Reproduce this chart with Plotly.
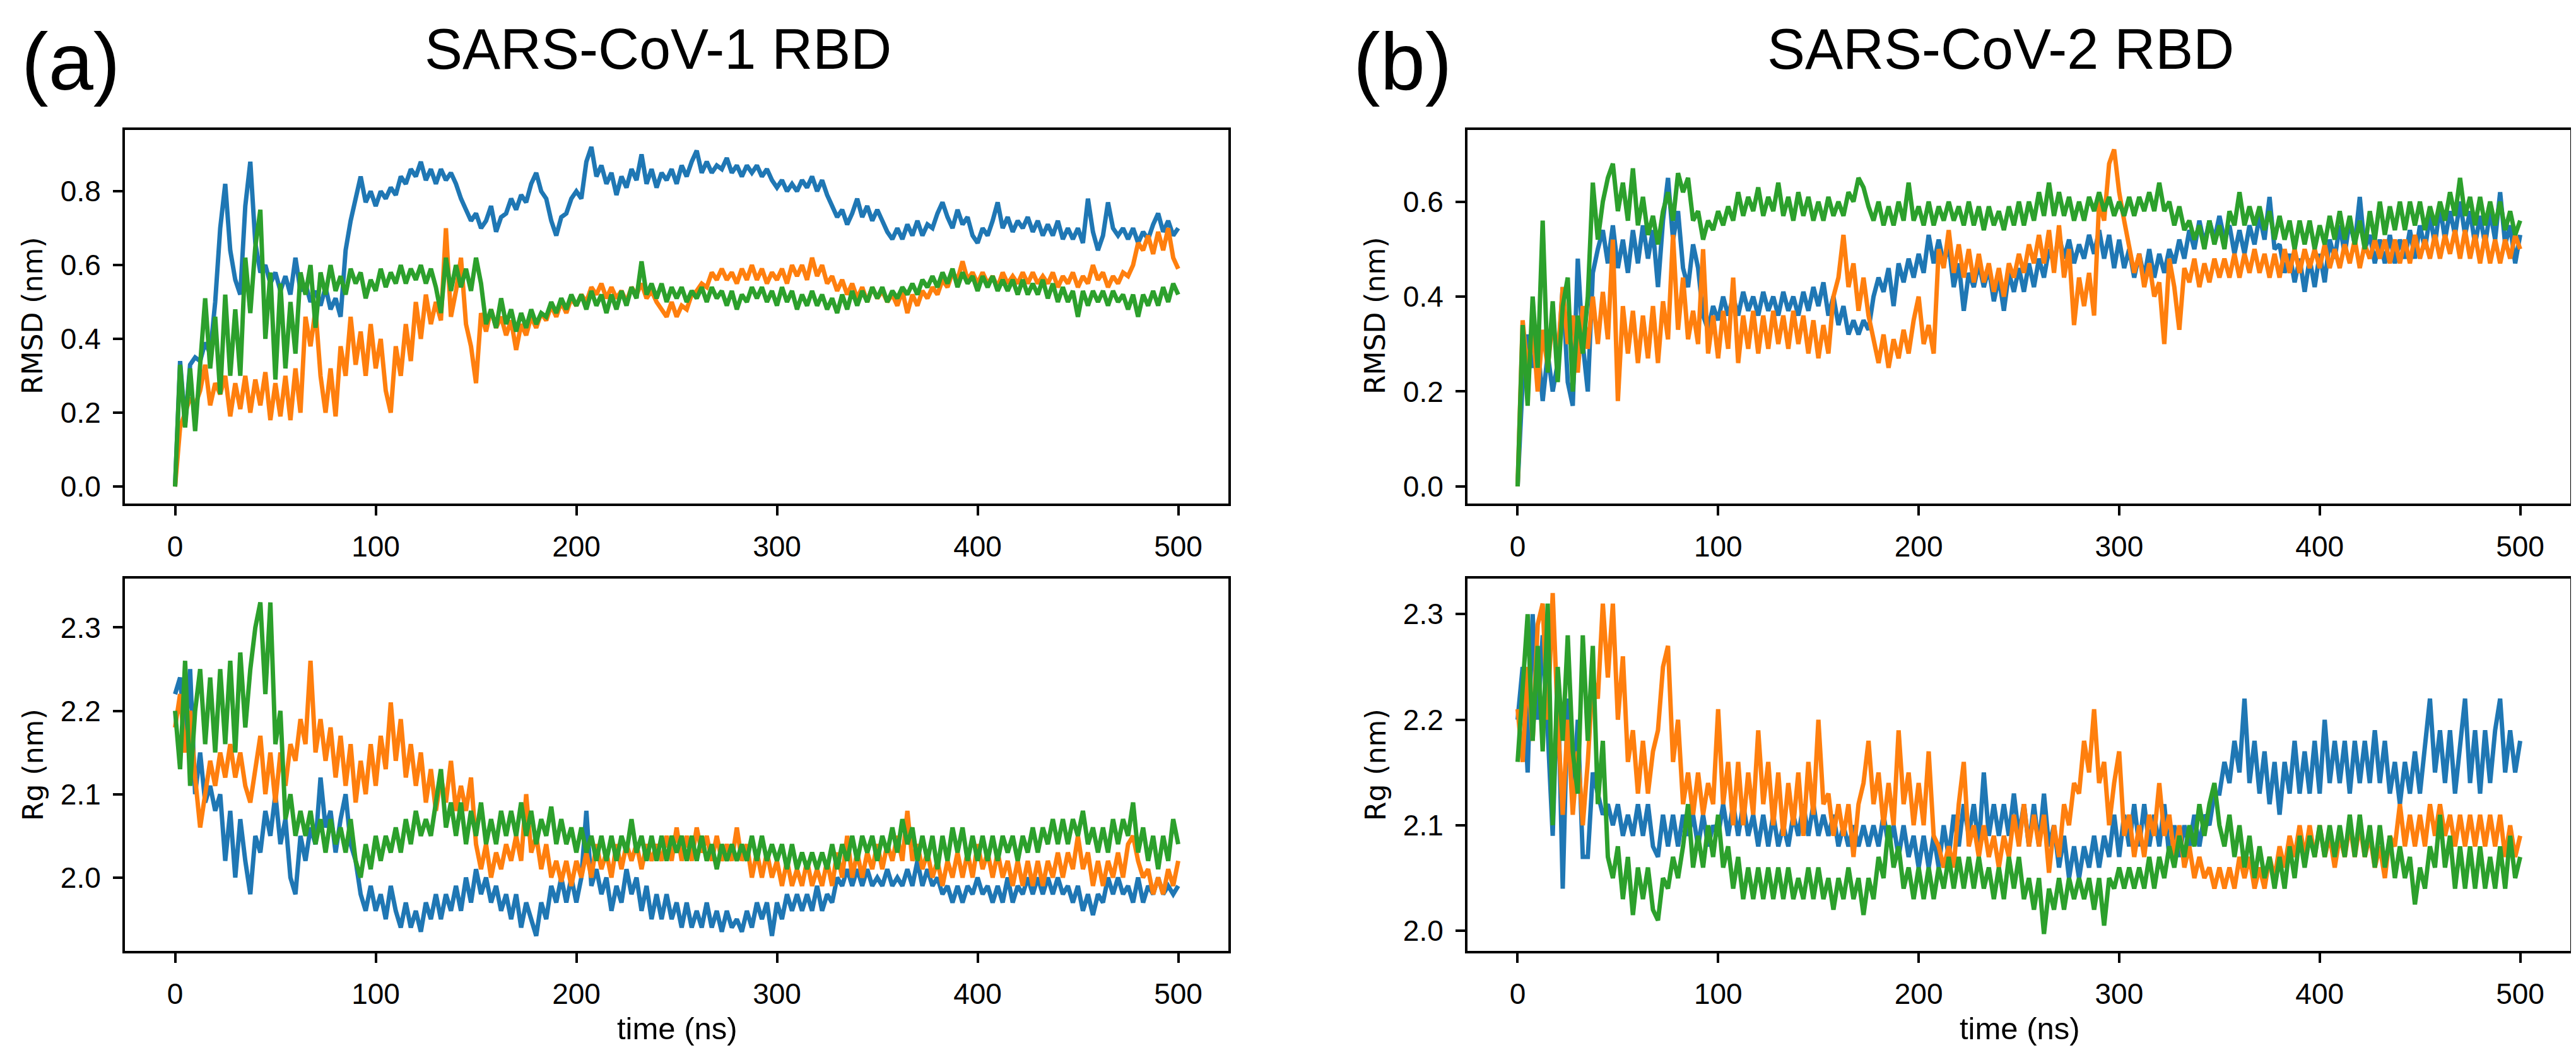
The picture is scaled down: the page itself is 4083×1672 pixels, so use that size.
import plotly.graph_objects as go

# time axis (ns), one sample every 2.5 ns
time_ns = [i * 2.5 for i in range(201)]
x_ticks = [0, 100, 200, 300, 400, 500]

# ---------------- (a) SARS-CoV-1 RBD : RMSD (nm) ----------------
a_rmsd_blue = [
    0.00, 0.34, 0.17, 0.33, 0.35, 0.34, 0.39, 0.36, 0.50, 0.70,
    0.82, 0.64, 0.56, 0.52, 0.76, 0.88, 0.66, 0.58, 0.60, 0.55,
    0.58, 0.53, 0.57, 0.52, 0.62, 0.53, 0.55, 0.50, 0.53, 0.49,
    0.54, 0.48, 0.51, 0.46, 0.64, 0.72, 0.78, 0.84, 0.77, 0.80,
    0.76, 0.80, 0.78, 0.81, 0.79, 0.84, 0.82, 0.86, 0.84, 0.88,
    0.83, 0.86, 0.82, 0.86, 0.83, 0.85, 0.82, 0.78, 0.75, 0.72,
    0.74, 0.70, 0.72, 0.76, 0.69, 0.73, 0.74, 0.78, 0.75, 0.79,
    0.77, 0.82, 0.85, 0.80, 0.78, 0.72, 0.68, 0.73, 0.74, 0.78,
    0.80, 0.78, 0.88, 0.92, 0.84, 0.87, 0.82, 0.85, 0.79, 0.84,
    0.81, 0.86, 0.83, 0.90, 0.82, 0.86, 0.81, 0.85, 0.83, 0.86,
    0.82, 0.87, 0.84, 0.88, 0.91, 0.85, 0.88, 0.85, 0.87, 0.86,
    0.89, 0.85, 0.87, 0.84, 0.87, 0.85, 0.87, 0.84, 0.86, 0.83,
    0.81, 0.83, 0.80, 0.82, 0.80, 0.83, 0.81, 0.84, 0.80, 0.83,
    0.79, 0.76, 0.73, 0.75, 0.71, 0.74, 0.78, 0.73, 0.76, 0.72,
    0.75, 0.72, 0.69, 0.67, 0.70, 0.67, 0.71, 0.68, 0.72, 0.68,
    0.71, 0.70, 0.74, 0.77, 0.73, 0.70, 0.75, 0.71, 0.73, 0.68,
    0.66, 0.70, 0.68, 0.72, 0.77, 0.70, 0.73, 0.69, 0.72, 0.70,
    0.73, 0.69, 0.72, 0.68, 0.71, 0.68, 0.72, 0.67, 0.70, 0.67,
    0.70, 0.66, 0.78, 0.69, 0.64, 0.68, 0.77, 0.70, 0.68, 0.70,
    0.67, 0.70, 0.66, 0.69, 0.67, 0.71, 0.74, 0.69, 0.72, 0.68,
    0.70]
a_rmsd_orange = [
    0.00, 0.16, 0.20, 0.24, 0.22, 0.26, 0.33, 0.22, 0.28, 0.25,
    0.30, 0.19, 0.28, 0.21, 0.30, 0.20, 0.29, 0.22, 0.31, 0.18,
    0.28, 0.19, 0.30, 0.18, 0.32, 0.20, 0.46, 0.38, 0.48, 0.30,
    0.20, 0.32, 0.19, 0.38, 0.30, 0.46, 0.33, 0.42, 0.30, 0.44,
    0.32, 0.40, 0.26, 0.20, 0.38, 0.30, 0.44, 0.34, 0.50, 0.40,
    0.52, 0.44, 0.50, 0.45, 0.70, 0.46, 0.53, 0.62, 0.44, 0.38,
    0.28, 0.47, 0.42, 0.48, 0.43, 0.46, 0.41, 0.45, 0.37, 0.44,
    0.41, 0.46, 0.43, 0.47, 0.45, 0.49, 0.46, 0.50, 0.47, 0.51,
    0.49, 0.52, 0.50, 0.54, 0.52, 0.55, 0.51, 0.54, 0.51, 0.53,
    0.50, 0.54, 0.52, 0.55, 0.51, 0.53, 0.50, 0.48, 0.46, 0.50,
    0.46, 0.49, 0.48, 0.52, 0.53, 0.55, 0.54, 0.58, 0.56, 0.59,
    0.56, 0.58, 0.55, 0.59, 0.56, 0.60, 0.56, 0.59, 0.55, 0.58,
    0.56, 0.59, 0.55, 0.60, 0.57, 0.60, 0.56, 0.62, 0.57, 0.60,
    0.55, 0.57, 0.53, 0.56, 0.52, 0.55, 0.51, 0.54, 0.50, 0.54,
    0.51, 0.53, 0.50, 0.52, 0.49, 0.53, 0.47, 0.52, 0.49, 0.53,
    0.51, 0.54, 0.52, 0.56, 0.54, 0.58, 0.56, 0.61, 0.56, 0.58,
    0.55, 0.58, 0.55, 0.57, 0.54, 0.58, 0.55, 0.57, 0.55, 0.58,
    0.55, 0.58, 0.55, 0.57, 0.55, 0.58, 0.54, 0.57, 0.55, 0.58,
    0.54, 0.57, 0.55, 0.60, 0.56, 0.58, 0.54, 0.57, 0.55, 0.58,
    0.57, 0.60, 0.66, 0.64, 0.68, 0.63, 0.69, 0.64, 0.70, 0.62,
    0.59]
a_rmsd_green = [
    0.00, 0.33, 0.16, 0.32, 0.15, 0.34, 0.51, 0.32, 0.46, 0.25,
    0.52, 0.30, 0.48, 0.30, 0.62, 0.47, 0.65, 0.75, 0.40, 0.58,
    0.29, 0.55, 0.32, 0.50, 0.36, 0.58, 0.52, 0.60, 0.43, 0.58,
    0.52, 0.60, 0.53, 0.57, 0.52, 0.59, 0.55, 0.58, 0.51, 0.56,
    0.53, 0.59, 0.54, 0.58, 0.55, 0.60, 0.55, 0.59, 0.56, 0.60,
    0.55, 0.59, 0.54, 0.47, 0.62, 0.53, 0.60, 0.54, 0.59, 0.53,
    0.62, 0.55, 0.44, 0.48, 0.43, 0.51, 0.44, 0.48, 0.42, 0.47,
    0.43, 0.48, 0.44, 0.47, 0.46, 0.50, 0.47, 0.51, 0.48, 0.52,
    0.49, 0.52, 0.48, 0.53, 0.49, 0.52, 0.47, 0.52, 0.48, 0.53,
    0.49, 0.54, 0.51, 0.61, 0.52, 0.55, 0.51, 0.55, 0.50, 0.54,
    0.51, 0.54, 0.50, 0.53, 0.51, 0.54, 0.50, 0.54, 0.51, 0.53,
    0.49, 0.53, 0.48, 0.52, 0.50, 0.54, 0.51, 0.54, 0.50, 0.53,
    0.49, 0.54, 0.50, 0.53, 0.48, 0.52, 0.49, 0.53, 0.49, 0.52,
    0.48, 0.51, 0.47, 0.52, 0.48, 0.53, 0.49, 0.53, 0.50, 0.54,
    0.51, 0.54, 0.50, 0.53, 0.51, 0.54, 0.52, 0.55, 0.52, 0.56,
    0.54, 0.57, 0.54, 0.58, 0.55, 0.59, 0.54, 0.58, 0.55, 0.57,
    0.53, 0.57, 0.54, 0.57, 0.53, 0.56, 0.53, 0.56, 0.52, 0.56,
    0.52, 0.55, 0.52, 0.56, 0.51, 0.55, 0.50, 0.54, 0.50, 0.53,
    0.46, 0.53, 0.49, 0.53, 0.50, 0.53, 0.49, 0.53, 0.50, 0.52,
    0.48, 0.52, 0.46, 0.52, 0.49, 0.53, 0.49, 0.54, 0.50, 0.55,
    0.52]

# ---------------- (a) SARS-CoV-1 RBD : Rg (nm) ----------------
a_rg_blue = [
    2.22, 2.24, 2.17, 2.25, 2.10, 2.15, 2.09, 2.11, 2.08, 2.10,
    2.02, 2.08, 2.00, 2.07, 2.02, 1.98, 2.05, 2.03, 2.08, 2.05,
    2.10, 2.04, 2.07, 2.00, 1.98, 2.05, 2.02, 2.06, 2.04, 2.12,
    2.06, 2.08, 2.03, 2.07, 2.10, 2.04, 2.02, 1.98, 1.96, 1.99,
    1.96, 1.98, 1.95, 1.99, 1.96, 1.94, 1.97, 1.94, 1.96, 1.935,
    1.97, 1.95, 1.98, 1.95, 1.98, 1.96, 1.99, 1.96, 2.00, 1.97,
    2.01, 1.98, 2.00, 1.97, 1.99, 1.96, 1.98, 1.95, 1.98, 1.94,
    1.97, 1.95, 1.93, 1.97, 1.95, 1.99, 1.97, 2.00, 1.97, 2.00,
    1.97, 2.00, 2.08, 1.99, 2.01, 1.98, 2.00, 1.96, 1.99, 1.97,
    2.01, 1.98, 2.00, 1.96, 1.99, 1.95, 1.98, 1.95, 1.98, 1.95,
    1.97, 1.94, 1.97, 1.94, 1.96, 1.94, 1.97, 1.94, 1.96, 1.935,
    1.96, 1.94, 1.95, 1.935, 1.96, 1.94, 1.97, 1.95, 1.97, 1.93,
    1.97, 1.95, 1.98, 1.96, 1.98, 1.96, 1.98, 1.96, 1.99, 1.96,
    1.98, 1.97, 2.00, 1.99, 2.01, 1.99, 2.01, 1.99, 2.01, 1.99,
    2.00, 1.99, 2.01, 1.99, 2.00, 1.99, 2.01, 1.99, 2.02, 1.99,
    2.01, 1.99, 2.00, 1.98, 1.99, 1.97, 1.99, 1.97, 1.99, 1.98,
    2.00, 1.98, 1.99, 1.97, 1.99, 1.97, 2.00, 1.97, 1.99, 1.98,
    2.00, 1.98, 2.00, 1.98, 2.00, 1.98, 2.00, 1.98, 1.99, 1.97,
    1.99, 1.96, 1.98, 1.955, 1.98, 1.97, 2.00, 1.98, 2.00, 1.98,
    1.99, 1.97, 2.00, 1.97, 1.99, 1.98, 2.00, 1.98, 1.99, 1.98,
    1.99]
a_rg_orange = [
    2.18, 2.22, 2.15, 2.20, 2.12, 2.06, 2.10, 2.14, 2.11, 2.15,
    2.12, 2.16, 2.12, 2.15, 2.11, 2.09, 2.13, 2.17, 2.10, 2.15,
    2.09, 2.15, 2.11, 2.16, 2.14, 2.19, 2.16, 2.26, 2.15, 2.19,
    2.14, 2.18, 2.12, 2.17, 2.11, 2.16, 2.09, 2.14, 2.10, 2.16,
    2.11, 2.17, 2.13, 2.21, 2.14, 2.19, 2.12, 2.16, 2.11, 2.15,
    2.09, 2.13, 2.08, 2.12, 2.09, 2.14, 2.08, 2.11, 2.08, 2.12,
    2.04, 2.01, 2.04, 2.00, 2.03, 2.01, 2.04, 2.02, 2.05, 2.02,
    2.10, 2.03, 2.05, 2.01, 2.04, 2.00, 2.02, 1.995, 2.02, 1.99,
    2.02, 2.00, 2.03, 2.00, 2.04, 2.01, 2.03, 2.00, 2.04, 2.01,
    2.04, 2.02, 2.04, 2.01, 2.04, 2.02, 2.04, 2.02, 2.05, 2.02,
    2.06, 2.02, 2.05, 2.02, 2.06, 2.03, 2.05, 2.02, 2.05, 2.02,
    2.04, 2.02, 2.06, 2.02, 2.04, 2.00, 2.03, 2.00, 2.03, 2.00,
    2.02, 1.99, 2.02, 1.99, 2.01, 1.99, 2.02, 1.99, 2.01, 1.99,
    2.02, 1.99, 2.03, 2.00, 2.05, 2.00, 2.03, 2.00, 2.03, 2.01,
    2.04, 2.01, 2.04, 2.02, 2.05, 2.02, 2.08, 2.02, 2.04, 2.01,
    2.03, 2.00, 2.02, 1.99, 2.02, 2.00, 2.03, 2.00, 2.03, 2.00,
    2.04, 2.01, 2.03, 2.00, 2.03, 2.00, 2.02, 1.99, 2.02, 1.99,
    2.02, 1.99, 2.02, 1.99, 2.02, 2.00, 2.03, 2.00, 2.03, 2.01,
    2.05, 2.01, 2.03, 1.99, 2.02, 1.99, 2.02, 2.00, 2.03, 2.00,
    2.04, 2.05, 2.02, 2.00, 2.01, 1.98, 2.00, 1.98, 2.01, 1.99,
    2.02]
a_rg_green = [
    2.20, 2.13, 2.26, 2.11, 2.20, 2.25, 2.16, 2.24, 2.15, 2.25,
    2.16, 2.26, 2.15, 2.27, 2.18, 2.25, 2.30, 2.33, 2.22, 2.33,
    2.16, 2.20, 2.07, 2.10, 2.05, 2.08, 2.05, 2.08, 2.04, 2.07,
    2.03, 2.07, 2.04, 2.06, 2.03, 2.07, 2.02, 2.00, 2.04, 2.01,
    2.05, 2.02, 2.05, 2.03, 2.06, 2.03, 2.07, 2.04, 2.08, 2.05,
    2.07, 2.05, 2.09, 2.13, 2.06, 2.09, 2.05, 2.09, 2.04, 2.08,
    2.05, 2.09, 2.04, 2.07, 2.04, 2.08, 2.05, 2.08, 2.05, 2.09,
    2.05, 2.08, 2.04, 2.07, 2.05, 2.085, 2.04, 2.07, 2.04, 2.06,
    2.03, 2.06, 2.03, 2.05, 2.02, 2.05, 2.02, 2.05, 2.02, 2.05,
    2.03, 2.07, 2.03, 2.05, 2.02, 2.05, 2.02, 2.05, 2.02, 2.05,
    2.03, 2.05, 2.02, 2.05, 2.02, 2.05, 2.02, 2.04, 2.01, 2.04,
    2.02, 2.04, 2.02, 2.04, 2.02, 2.05, 2.02, 2.05, 2.02, 2.04,
    2.02, 2.04, 2.01, 2.04, 2.01, 2.03, 2.01, 2.03, 2.01, 2.03,
    2.01, 2.04, 2.01, 2.04, 2.02, 2.05, 2.02, 2.05, 2.03, 2.05,
    2.02, 2.05, 2.03, 2.06, 2.03, 2.07, 2.04, 2.06, 2.02, 2.05,
    2.02, 2.05, 2.01, 2.05, 2.02, 2.06, 2.03, 2.06, 2.02, 2.05,
    2.02, 2.05, 2.02, 2.05, 2.02, 2.05, 2.03, 2.05, 2.02, 2.05,
    2.03, 2.06, 2.03, 2.06, 2.04, 2.07, 2.04, 2.07, 2.04, 2.07,
    2.05, 2.08, 2.04, 2.06, 2.03, 2.06, 2.03, 2.07, 2.04, 2.07,
    2.05, 2.09, 2.03, 2.06, 2.02, 2.05, 2.01, 2.05, 2.02, 2.07,
    2.04]

# ---------------- (b) SARS-CoV-2 RBD : RMSD (nm) ----------------
b_rmsd_blue = [
    0.00, 0.22, 0.32, 0.25, 0.30, 0.18, 0.28, 0.20, 0.26, 0.42,
    0.22, 0.17, 0.48, 0.30, 0.20, 0.45, 0.50, 0.54, 0.47, 0.55,
    0.46, 0.52, 0.45, 0.54, 0.47, 0.55, 0.48, 0.54, 0.42, 0.56,
    0.65, 0.52, 0.58, 0.46, 0.42, 0.51, 0.46, 0.36, 0.33, 0.38,
    0.35, 0.40, 0.36, 0.40, 0.36, 0.41, 0.37, 0.40, 0.36, 0.41,
    0.37, 0.40, 0.36, 0.41, 0.37, 0.40, 0.36, 0.41, 0.37, 0.42,
    0.38, 0.43, 0.36, 0.40, 0.34, 0.38, 0.32, 0.35, 0.32, 0.35,
    0.33, 0.40, 0.44, 0.41, 0.46, 0.38, 0.47, 0.43, 0.48, 0.44,
    0.49, 0.45, 0.53, 0.47, 0.52, 0.47, 0.51, 0.42, 0.47, 0.37,
    0.45, 0.42, 0.47, 0.42, 0.46, 0.39, 0.44, 0.37, 0.45, 0.41,
    0.46, 0.41, 0.47, 0.42, 0.48, 0.44, 0.50, 0.47, 0.53, 0.48,
    0.52, 0.47, 0.51, 0.48, 0.53, 0.49, 0.54, 0.48, 0.53, 0.46,
    0.52, 0.46, 0.50, 0.44, 0.49, 0.44, 0.50, 0.44, 0.49, 0.45,
    0.50, 0.47, 0.52, 0.48, 0.54, 0.50, 0.56, 0.51, 0.56, 0.52,
    0.57, 0.52, 0.55, 0.49, 0.54, 0.49, 0.55, 0.51, 0.57, 0.52,
    0.61, 0.50, 0.51, 0.45, 0.49, 0.43, 0.48, 0.41, 0.48, 0.42,
    0.49, 0.43, 0.52, 0.48, 0.55, 0.49, 0.56, 0.51, 0.61, 0.50,
    0.53, 0.47, 0.52, 0.47, 0.53, 0.47, 0.52, 0.48, 0.54, 0.48,
    0.55, 0.50, 0.57, 0.51, 0.59, 0.52, 0.58, 0.53, 0.60, 0.53,
    0.58, 0.51, 0.57, 0.51, 0.58, 0.52, 0.62, 0.51, 0.55, 0.47,
    0.53]
b_rmsd_orange = [
    0.00, 0.35, 0.24, 0.34, 0.20, 0.33, 0.25, 0.35, 0.27, 0.42,
    0.30, 0.36, 0.24, 0.38, 0.29, 0.40, 0.30, 0.41, 0.31, 0.52,
    0.18, 0.38, 0.28, 0.37, 0.26, 0.36, 0.27, 0.38, 0.26, 0.39,
    0.31, 0.53, 0.33, 0.44, 0.31, 0.37, 0.30, 0.50, 0.28, 0.36,
    0.27, 0.37, 0.29, 0.44, 0.26, 0.36, 0.29, 0.37, 0.28, 0.36,
    0.29, 0.37, 0.30, 0.36, 0.29, 0.37, 0.30, 0.36, 0.28, 0.35,
    0.27, 0.34, 0.28, 0.40, 0.44, 0.53, 0.42, 0.47, 0.37, 0.44,
    0.36, 0.31, 0.26, 0.32, 0.25, 0.31, 0.27, 0.33, 0.28, 0.35,
    0.40, 0.30, 0.34, 0.28, 0.50, 0.46, 0.54, 0.45, 0.51, 0.44,
    0.50, 0.43, 0.49, 0.43, 0.47, 0.41, 0.46, 0.40, 0.47, 0.44,
    0.49, 0.45, 0.51, 0.47, 0.53, 0.47, 0.54, 0.45, 0.55, 0.44,
    0.50, 0.34, 0.44, 0.38, 0.45, 0.36, 0.60, 0.56, 0.68, 0.71,
    0.62, 0.56, 0.50, 0.45, 0.49, 0.42, 0.47, 0.40, 0.43, 0.30,
    0.48, 0.42, 0.33, 0.46, 0.43, 0.48, 0.42, 0.47, 0.43, 0.48,
    0.44, 0.48, 0.44, 0.49, 0.44, 0.49, 0.45, 0.50, 0.45, 0.49,
    0.44, 0.49, 0.44, 0.50, 0.45, 0.50, 0.45, 0.50, 0.46, 0.50,
    0.46, 0.51, 0.46, 0.50, 0.46, 0.51, 0.47, 0.52, 0.46, 0.51,
    0.48, 0.52, 0.48, 0.52, 0.47, 0.52, 0.47, 0.52, 0.47, 0.53,
    0.48, 0.52, 0.48, 0.53, 0.48, 0.53, 0.49, 0.54, 0.48, 0.54,
    0.48, 0.53, 0.47, 0.53, 0.47, 0.52, 0.47, 0.52, 0.48, 0.53,
    0.50]
b_rmsd_green = [
    0.00, 0.34, 0.17, 0.40, 0.25, 0.56, 0.24, 0.39, 0.22, 0.38,
    0.44, 0.20, 0.36, 0.28, 0.40, 0.64, 0.52, 0.60, 0.65, 0.68,
    0.58, 0.64, 0.56, 0.67, 0.55, 0.61, 0.53, 0.57, 0.51, 0.58,
    0.62, 0.56, 0.66, 0.62, 0.65, 0.56, 0.58, 0.52, 0.56, 0.54,
    0.58, 0.55, 0.59, 0.56, 0.62, 0.57, 0.61, 0.58, 0.63, 0.57,
    0.61, 0.58, 0.64, 0.57, 0.61, 0.56, 0.62, 0.57, 0.61, 0.56,
    0.60, 0.56, 0.61, 0.57, 0.60, 0.57, 0.62, 0.60, 0.65, 0.63,
    0.59, 0.56, 0.60, 0.55, 0.59, 0.55, 0.60, 0.56, 0.64, 0.56,
    0.59, 0.55, 0.60, 0.55, 0.59, 0.56, 0.60, 0.56, 0.59, 0.55,
    0.60, 0.55, 0.59, 0.54, 0.59, 0.55, 0.58, 0.54, 0.59, 0.55,
    0.60, 0.55, 0.60, 0.56, 0.62, 0.57, 0.64, 0.57, 0.62, 0.57,
    0.61, 0.56, 0.60, 0.56, 0.61, 0.58, 0.62, 0.58, 0.61, 0.57,
    0.60, 0.57, 0.61, 0.57, 0.61, 0.58, 0.62, 0.58, 0.64, 0.58,
    0.60, 0.55, 0.59, 0.54, 0.56, 0.52, 0.55, 0.50, 0.56, 0.51,
    0.55, 0.50, 0.58, 0.55, 0.62, 0.55, 0.59, 0.55, 0.59, 0.54,
    0.58, 0.52, 0.57, 0.52, 0.56, 0.50, 0.56, 0.51, 0.56, 0.50,
    0.55, 0.51, 0.57, 0.52, 0.58, 0.52, 0.57, 0.51, 0.56, 0.50,
    0.58, 0.52, 0.60, 0.53, 0.59, 0.54, 0.60, 0.54, 0.60, 0.55,
    0.60, 0.54, 0.59, 0.55, 0.60, 0.56, 0.62, 0.57, 0.65, 0.57,
    0.61, 0.55, 0.61, 0.55, 0.60, 0.55, 0.60, 0.54, 0.58, 0.53,
    0.56]

# ---------------- (b) SARS-CoV-2 RBD : Rg (nm) ----------------
b_rg_blue = [
    2.20, 2.25, 2.15, 2.30, 2.20, 2.28, 2.19, 2.09, 2.24, 2.04,
    2.22, 2.12, 2.20, 2.07, 2.07, 2.15, 2.13, 2.11, 2.12, 2.10,
    2.12, 2.09, 2.11, 2.09, 2.12, 2.09, 2.12, 2.08, 2.07, 2.11,
    2.08, 2.11, 2.08, 2.11, 2.09, 2.11, 2.08, 2.11, 2.08, 2.10,
    2.09, 2.12, 2.09, 2.12, 2.09, 2.12, 2.09, 2.11, 2.08, 2.11,
    2.08, 2.11, 2.08, 2.10, 2.08, 2.11, 2.09, 2.12, 2.09, 2.12,
    2.09, 2.11, 2.09, 2.11, 2.08, 2.10, 2.08, 2.10, 2.08, 2.10,
    2.08, 2.10, 2.08, 2.11, 2.08, 2.10, 2.07, 2.10, 2.07, 2.09,
    2.06, 2.09, 2.06, 2.09, 2.06, 2.10, 2.07, 2.11, 2.08, 2.12,
    2.09, 2.12, 2.08, 2.15, 2.09, 2.12, 2.09, 2.12, 2.09, 2.13,
    2.09, 2.12, 2.08, 2.12, 2.08, 2.13, 2.08, 2.10, 2.06, 2.09,
    2.05, 2.08, 2.05, 2.08, 2.06, 2.09, 2.06, 2.09, 2.07, 2.11,
    2.07, 2.11, 2.08, 2.12, 2.08, 2.12, 2.08, 2.11, 2.08, 2.12,
    2.07, 2.10, 2.07, 2.10, 2.08, 2.11, 2.08, 2.11, 2.10, 2.13,
    2.13, 2.16, 2.14, 2.18, 2.15, 2.22, 2.14, 2.18, 2.13, 2.17,
    2.12, 2.16, 2.11, 2.16, 2.13, 2.18, 2.13, 2.17, 2.13, 2.18,
    2.13, 2.20, 2.14, 2.18, 2.14, 2.18, 2.13, 2.18, 2.14, 2.18,
    2.14, 2.19, 2.14, 2.18, 2.13, 2.16, 2.12, 2.16, 2.13, 2.17,
    2.13, 2.18, 2.22, 2.15, 2.19, 2.14, 2.19, 2.13, 2.18, 2.22,
    2.14, 2.19, 2.13, 2.19, 2.14, 2.19, 2.22, 2.15, 2.19, 2.15,
    2.18]
b_rg_orange = [
    2.21, 2.16, 2.25, 2.18, 2.29, 2.31, 2.20, 2.32, 2.20, 2.11,
    2.20, 2.11, 2.17, 2.10, 2.16, 2.24, 2.22, 2.31, 2.24, 2.31,
    2.20, 2.26, 2.16, 2.19, 2.13, 2.18, 2.13, 2.17, 2.19, 2.25,
    2.27, 2.16, 2.20, 2.12, 2.15, 2.11, 2.15, 2.11, 2.14, 2.12,
    2.21, 2.12, 2.16, 2.10, 2.16, 2.10, 2.15, 2.11, 2.19, 2.12,
    2.16, 2.10, 2.15, 2.09, 2.14, 2.10, 2.15, 2.09, 2.16, 2.11,
    2.20, 2.12, 2.13, 2.09, 2.12, 2.09, 2.12, 2.07, 2.12, 2.14,
    2.18, 2.12, 2.15, 2.10, 2.14, 2.10, 2.19, 2.12, 2.15, 2.10,
    2.14, 2.10, 2.17, 2.09, 2.08, 2.06, 2.08, 2.06, 2.12, 2.16,
    2.08, 2.10, 2.07, 2.10, 2.07, 2.09, 2.06, 2.09, 2.07, 2.11,
    2.08, 2.12, 2.08, 2.11, 2.08, 2.11, 2.055, 2.10, 2.07, 2.12,
    2.10, 2.14, 2.13, 2.18, 2.15, 2.21, 2.14, 2.16, 2.10, 2.14,
    2.17, 2.09, 2.11, 2.07, 2.10, 2.07, 2.11, 2.09, 2.14, 2.09,
    2.11, 2.07, 2.10, 2.06, 2.08, 2.05, 2.07, 2.05, 2.06, 2.04,
    2.06, 2.04, 2.06, 2.04, 2.07, 2.05, 2.07, 2.04, 2.06, 2.04,
    2.07, 2.05, 2.08, 2.06, 2.09, 2.07, 2.10, 2.07, 2.10, 2.07,
    2.10, 2.07, 2.09, 2.06, 2.09, 2.07, 2.10, 2.07, 2.10, 2.07,
    2.09, 2.06, 2.08, 2.05, 2.09, 2.08, 2.12, 2.08, 2.11, 2.08,
    2.11, 2.08, 2.12, 2.09, 2.12, 2.09, 2.11, 2.08, 2.11, 2.08,
    2.11, 2.08, 2.11, 2.08, 2.11, 2.08, 2.11, 2.07, 2.10, 2.07,
    2.09]
b_rg_green = [
    2.16, 2.23, 2.30, 2.18, 2.27, 2.17, 2.31, 2.10, 2.25, 2.18,
    2.28, 2.17, 2.13, 2.28, 2.18, 2.27, 2.12, 2.18, 2.07, 2.05,
    2.08, 2.03, 2.07, 2.015, 2.06, 2.03, 2.06, 2.02, 2.01, 2.05,
    2.04, 2.07, 2.05, 2.08, 2.12, 2.06, 2.09, 2.06, 2.10, 2.07,
    2.11, 2.06, 2.08, 2.04, 2.07, 2.03, 2.06, 2.03, 2.06, 2.03,
    2.06, 2.03, 2.06, 2.03, 2.06, 2.03, 2.05, 2.03, 2.06, 2.03,
    2.06, 2.03, 2.05, 2.02, 2.05, 2.03, 2.06, 2.03, 2.05, 2.015,
    2.05, 2.03, 2.07, 2.05, 2.10, 2.06, 2.08, 2.04, 2.06, 2.03,
    2.06, 2.03, 2.06, 2.03, 2.06, 2.04, 2.07, 2.04, 2.07, 2.04,
    2.07, 2.04, 2.07, 2.04, 2.06, 2.03, 2.06, 2.03, 2.07, 2.04,
    2.07, 2.03, 2.05, 2.02, 2.05, 1.997, 2.04, 2.02, 2.05, 2.02,
    2.05, 2.03, 2.05, 2.03, 2.05, 2.02, 2.05, 2.005, 2.05, 2.04,
    2.06, 2.04, 2.06, 2.04, 2.06, 2.04, 2.07, 2.04, 2.07, 2.05,
    2.08, 2.06, 2.09, 2.07, 2.10, 2.08, 2.12, 2.09, 2.12, 2.14,
    2.10, 2.08, 2.11, 2.07, 2.10, 2.06, 2.09, 2.05, 2.08, 2.05,
    2.07, 2.04, 2.07, 2.04, 2.08, 2.05, 2.09, 2.06, 2.09, 2.07,
    2.10, 2.07, 2.10, 2.07, 2.10, 2.07, 2.11, 2.07, 2.11, 2.07,
    2.10, 2.06, 2.10, 2.06, 2.09, 2.05, 2.08, 2.05, 2.07, 2.025,
    2.06, 2.04, 2.08, 2.06, 2.11, 2.06, 2.09, 2.04, 2.08, 2.04,
    2.08, 2.04, 2.08, 2.04, 2.07, 2.04, 2.08, 2.04, 2.09, 2.05,
    2.07]

# ---------------- figure ----------------
W, H = 4083, 1672
colors = ["#1f77b4", "#ff7f0e", "#2ca02c"]
LINE_W = 7
FONT = "Liberation Sans, Arial, Helvetica, sans-serif"

panels = [
    ("x", "y", [a_rmsd_blue, a_rmsd_orange, a_rmsd_green]),
    ("x2", "y2", [a_rg_blue, a_rg_orange, a_rg_green]),
    ("x3", "y3", [b_rmsd_blue, b_rmsd_orange, b_rmsd_green]),
    ("x4", "y4", [b_rg_blue, b_rg_orange, b_rg_green]),
]

fig = go.Figure()
for xa, ya, series in panels:
    for vals, col in zip(series, colors):
        fig.add_trace(go.Scatter(x=time_ns, y=vals, mode="lines", xaxis=xa, yaxis=ya,
                                 line=dict(color=col, width=LINE_W), showlegend=False,
                                 hoverinfo="skip"))

def px_x(v):
    return v / W

def px_y(v):
    return 1 - v / H

left_dom = [px_x(190), px_x(1939)]
right_dom = [px_x(2318), px_x(4066)]
top_dom = [px_y(790), px_y(198)]
bot_dom = [px_y(1499), px_y(908.5)]

axis_common = dict(showline=True, mirror=True, linecolor="black", linewidth=4,
                   ticks="outside", ticklen=15, tickwidth=4, tickcolor="black",
                   showgrid=False, zeroline=False,
                   tickfont=dict(family=FONT, size=46, color="black"),
                   ticklabelstandoff=10)

xax = dict(axis_common, range=[-25, 525], tickvals=x_ticks, ticktext=[str(v) for v in x_ticks])

rmsd_a_ticks = [0.0, 0.2, 0.4, 0.6, 0.8]
rmsd_b_ticks = [0.0, 0.2, 0.4, 0.6]
rg_ticks = [2.0, 2.1, 2.2, 2.3]

fig.update_layout(
    width=W, height=H, margin=dict(l=0, r=0, t=0, b=0),
    paper_bgcolor="white", plot_bgcolor="white",
    xaxis=dict(xax, domain=left_dom, anchor="y"),
    yaxis=dict(axis_common, domain=top_dom, anchor="x", range=[-0.046, 0.966],
               tickvals=rmsd_a_ticks, ticktext=[f"{v:.1f}" for v in rmsd_a_ticks]),
    xaxis2=dict(xax, domain=left_dom, anchor="y2"),
    yaxis2=dict(axis_common, domain=bot_dom, anchor="x2", range=[1.912, 2.359],
                tickvals=rg_ticks, ticktext=[f"{v:.1f}" for v in rg_ticks]),
    xaxis3=dict(xax, domain=right_dom, anchor="y3"),
    yaxis3=dict(axis_common, domain=top_dom, anchor="x3", range=[-0.036, 0.751],
                tickvals=rmsd_b_ticks, ticktext=[f"{v:.1f}" for v in rmsd_b_ticks]),
    xaxis4=dict(xax, domain=right_dom, anchor="y4"),
    yaxis4=dict(axis_common, domain=bot_dom, anchor="x4", range=[1.981, 2.334],
                tickvals=rg_ticks, ticktext=[f"{v:.1f}" for v in rg_ticks]),
)

ann = []
def add_text(text, x, y, size, family=FONT, angle=0, xanchor="center"):
    ann.append(dict(text=text, x=px_x(x), y=px_y(y), xref="paper", yref="paper",
                    xanchor=xanchor, yanchor="middle", showarrow=False, textangle=angle,
                    font=dict(family=family, size=size, color="black")))

add_text("(a)", 24, 90, 128, xanchor="left")
add_text("(b)", 2135, 90, 128, xanchor="left")
add_text("SARS-CoV-1 RBD", 1035, 70, 90)
add_text("SARS-CoV-2 RBD", 3163, 70, 90)
add_text("RMSD (nm)", 44, 493, 44, family="DejaVu Sans", angle=-90)
add_text("Rg (nm)", 44, 1204, 44, family="DejaVu Sans", angle=-90)
add_text("RMSD (nm)", 2172, 493, 44, family="DejaVu Sans", angle=-90)
add_text("Rg (nm)", 2172, 1204, 44, family="DejaVu Sans", angle=-90)
add_text("time (ns)", 1065, 1622, 49)
add_text("time (ns)", 3193, 1622, 49)
fig.update_layout(annotations=ann)

fig.write_html("out.html")
